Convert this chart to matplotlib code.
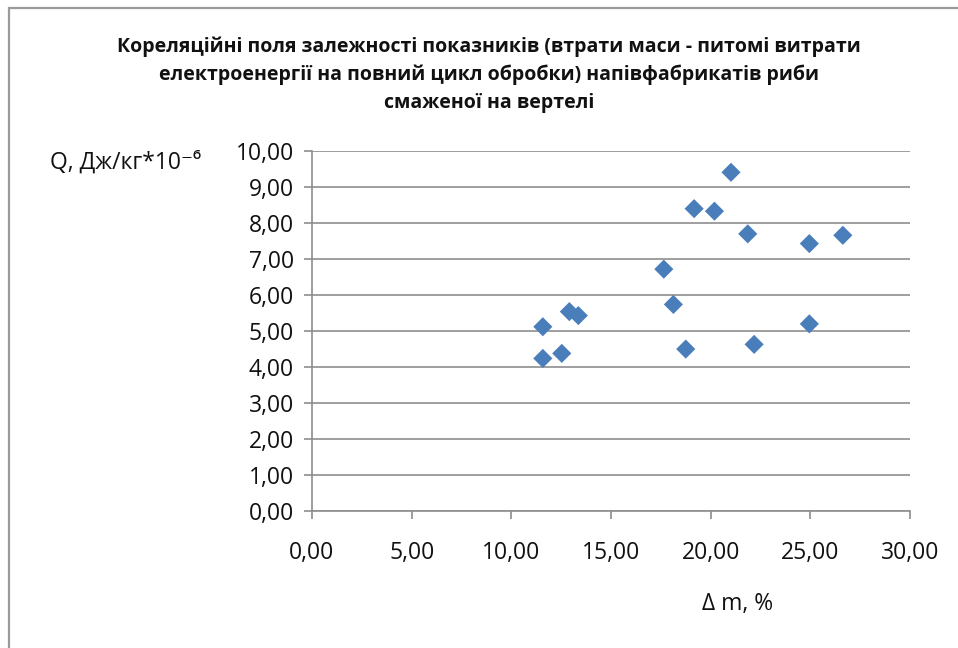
import matplotlib
matplotlib.use('Agg')
import matplotlib.pyplot as plt
import matplotlib.patches as mpatches
from matplotlib.ticker import FuncFormatter, MultipleLocator

# Data (mass loss %, specific energy Q)
dm = [11.58, 11.58, 12.53, 12.91, 13.36, 17.65, 18.13, 18.75,
      19.17, 20.19, 21.02, 21.86, 22.18, 24.95, 24.95, 26.63]
q = [5.11, 4.23, 4.37, 5.53, 5.42, 6.71, 5.73, 4.49,
     8.39, 8.32, 9.40, 7.69, 4.62, 7.42, 5.19, 7.65]

title_lines = [
    'Кореляційні поля залежності показників (втрати маси - питомі витрати',
    'електроенергії на повний цикл обробки) напівфабрикатів риби',
    'смаженої на вертелі',
]
y_label = 'Q, Дж/кг*10⁻⁶'
x_label = 'Δ m, %'

FONT = ['Open Sans', 'DejaVu Sans']
GRID = '#8e8e8e'
BLUE = '#4a7ebb'

W, H = 958, 648
fig = plt.figure(figsize=(W / 100, H / 100), dpi=100)
fig.patch.set_facecolor('white')

# outer chart border (only top and left edges visible in the reference)
fig.add_artist(mpatches.Rectangle((9 / W, -0.1), 1.2, 1 - 8 / H + 0.1,
                                  transform=fig.transFigure, fill=False,
                                  edgecolor='#9a9a9a', linewidth=1.6))

ax = fig.add_axes([312 / W, 1 - 510.7 / H, (910 - 312) / W, (510.7 - 150.7) / H])
ax.scatter(dm, q, marker='D', s=95, color=BLUE, edgecolors='none', zorder=3)

ax.set_xlim(0, 30)
ax.set_ylim(0, 10)
ax.xaxis.set_major_locator(MultipleLocator(5))
ax.yaxis.set_major_locator(MultipleLocator(1))
fmt = FuncFormatter(lambda v, p: f'{v:.2f}'.replace('.', ','))
ax.xaxis.set_major_formatter(fmt)
ax.yaxis.set_major_formatter(fmt)

ax.grid(axis='y', color=GRID, linewidth=1.2)
ax.set_axisbelow(True)
for side in ['top', 'right']:
    ax.spines[side].set_visible(False)
for side in ['left', 'bottom']:
    ax.spines[side].set_color(GRID)
    ax.spines[side].set_linewidth(1.2)
ax.tick_params(axis='both', direction='out', length=6, width=1.2, color=GRID,
               labelsize=16.5, labelcolor='#111111')
ax.tick_params(axis='y', pad=7)
ax.tick_params(axis='x', pad=16)
for lab in ax.get_xticklabels() + ax.get_yticklabels():
    lab.set_family(FONT)

for i, line in enumerate(title_lines):
    fig.text(489 / W, 1 - (47 + 28 * i) / H, line, ha='center', va='center',
             fontsize=14, fontweight='bold', family=FONT, color='#111111')

fig.text(50 / W, 1 - 163 / H, y_label, ha='left', va='center',
         fontsize=16.5, family=FONT, color='#111111')
fig.text(738 / W, 1 - 604 / H, x_label, ha='center', va='center',
         fontsize=16.5, family=FONT, color='#111111')

fig.savefig('out.png', dpi=100)
